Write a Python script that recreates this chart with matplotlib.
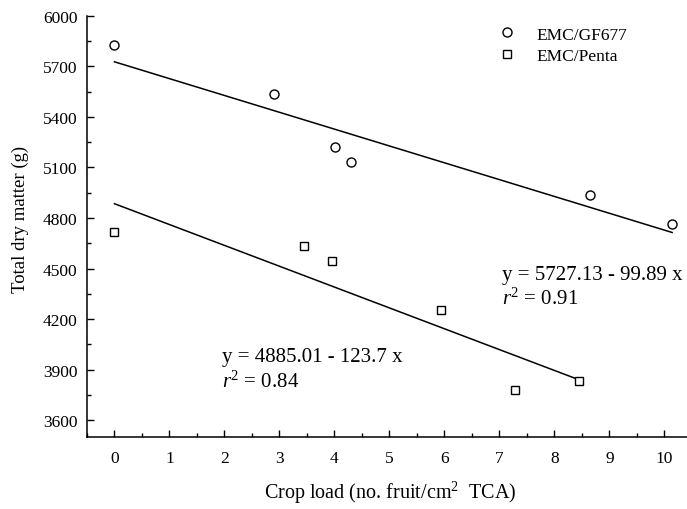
import numpy as np
import matplotlib
matplotlib.use('Agg')
import matplotlib.pyplot as plt
from matplotlib.ticker import MultipleLocator

plt.rcParams['font.family'] = 'Liberation Serif'
plt.rcParams['mathtext.fontset'] = 'custom'
plt.rcParams['mathtext.rm'] = 'Liberation Serif'
plt.rcParams['mathtext.it'] = 'Liberation Serif:italic'

# EMC/GF677 (circles)
gf_x = [0.0, 2.90, 4.01, 4.30, 8.64, 10.14]
gf_y = [5825, 5538, 5224, 5134, 4936, 4762]
# EMC/Penta (squares)
penta_x = [0.0, 3.45, 3.96, 5.93, 7.29, 8.45]
penta_y = [4720, 4634, 4545, 4254, 3778, 3834]

# regression coefficients as printed on the chart
gf_fit = (5727.13, -99.89)
penta_fit = (4885.01, -123.7)

fig = plt.figure(figsize=(6.87, 5.1), dpi=100)
ax = fig.add_axes([0.1266, 0.141, 0.8734, 0.826])

ax.plot(gf_x, gf_y, linestyle='none', marker='o', markersize=6.5,
        markerfacecolor='white', markeredgecolor='black', markeredgewidth=1.0,
        label='EMC/GF677', zorder=3)
ax.plot(penta_x, penta_y, linestyle='none', marker='s', markersize=6,
        markerfacecolor='white', markeredgecolor='black', markeredgewidth=1.0,
        label='EMC/Penta', zorder=3)

xs = np.array([min(gf_x), max(gf_x)])
ax.plot(xs, gf_fit[0] + gf_fit[1] * xs, color='black', lw=1.1)
xs = np.array([min(penta_x), max(penta_x)])
ax.plot(xs, penta_fit[0] + penta_fit[1] * xs, color='black', lw=1.1)

fs = 15
ax.text(7.05, 4438, 'y = 5727.13 - 99.89 x', fontsize=fs)
ax.text(7.05, 4290, '$r^2$ = 0.91', fontsize=fs)
ax.text(1.96, 3950, 'y = 4885.01 - 123.7 x', fontsize=fs)
ax.text(1.96, 3800, '$r^2$ = 0.84', fontsize=fs)

ax.set_xlim(-0.5, 10.41)
ax.set_ylim(3500, 6000)
ax.set_xticks(range(0, 11))
ax.set_yticks(range(3600, 6001, 300))
ax.xaxis.set_minor_locator(MultipleLocator(0.5))
ax.yaxis.set_minor_locator(MultipleLocator(150))
ax.tick_params(which='both', direction='in', width=1.0)
ax.tick_params(which='major', length=5, labelsize=12.5)
ax.tick_params(which='minor', length=3)
ax.tick_params(axis='y', which='major', pad=7)
ax.tick_params(axis='x', which='major', pad=9)

for s in ['top', 'right']:
    ax.spines[s].set_visible(False)
for s in ['left', 'bottom']:
    ax.spines[s].set_linewidth(1.1)

ax.set_xlabel('Crop load (no. fruit/cm$^2$  TCA)', fontsize=14.5)
ax.set_ylabel('Total dry matter (g)', fontsize=13.5)
ax.xaxis.set_label_coords(0.505, -0.1)
ax.yaxis.set_label_coords(-0.097, 0.52)

ax.legend(loc='upper left', bbox_to_anchor=(0.66, 1.012), frameon=False,
          fontsize=12.5, handlelength=1.0, handletextpad=1.2, labelspacing=0.3)

fig.savefig('out.png', dpi=100)
